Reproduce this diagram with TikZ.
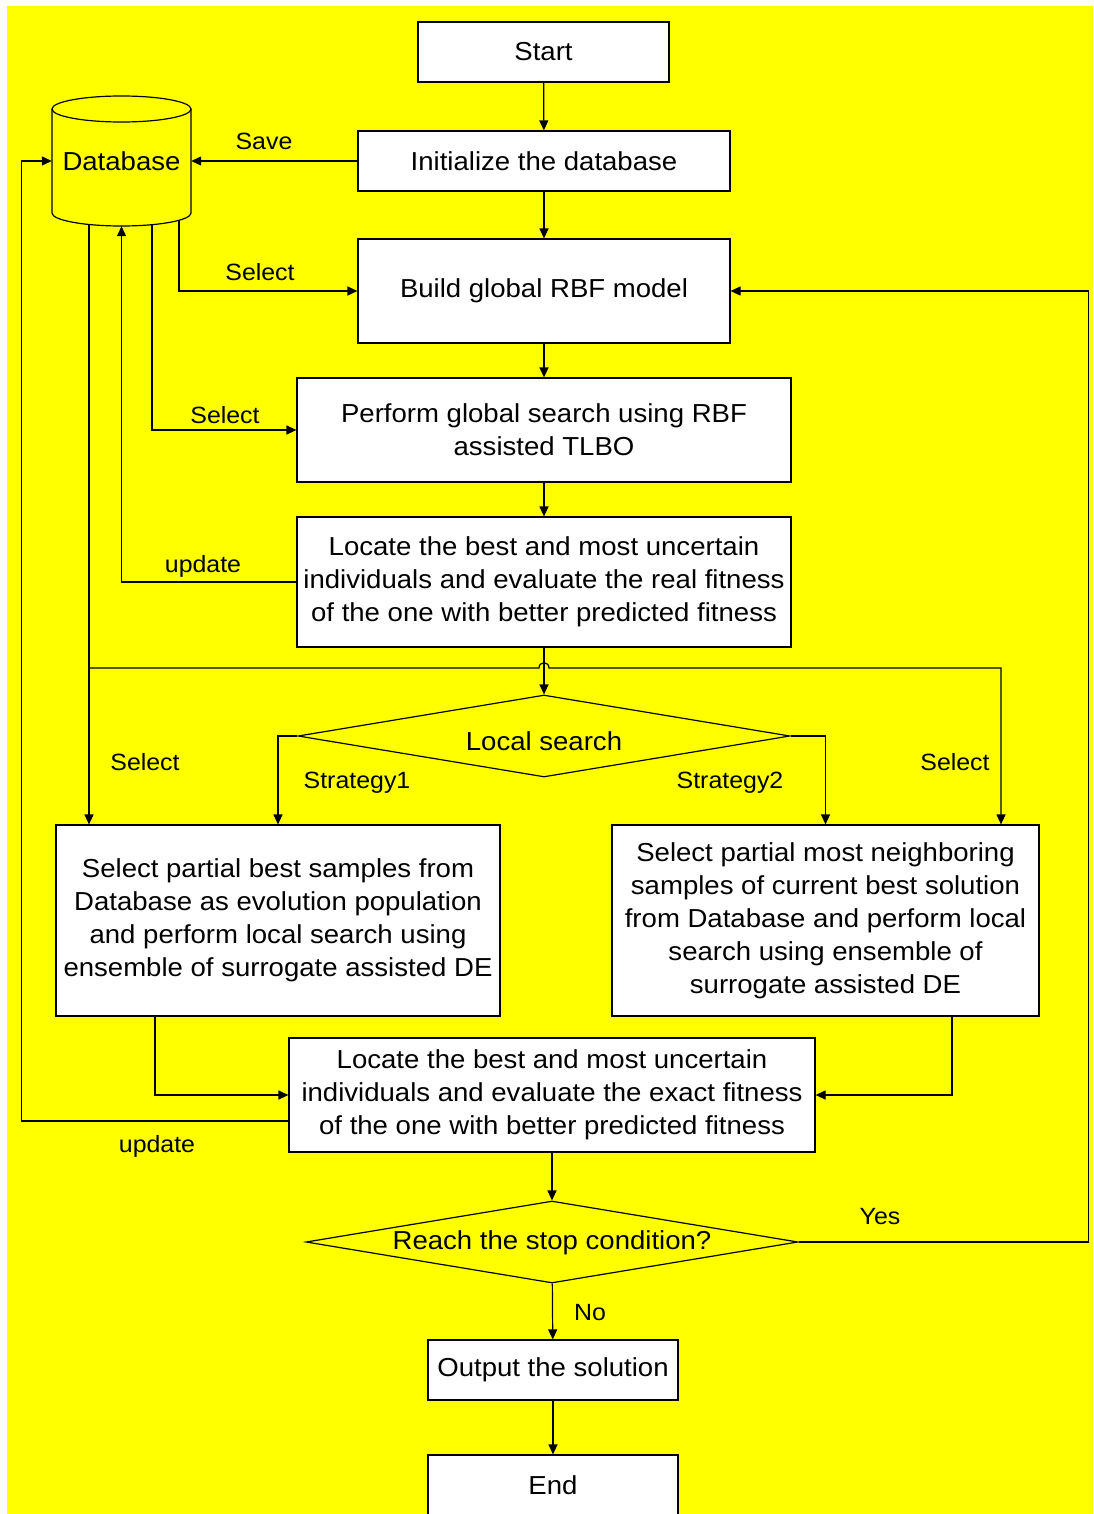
\documentclass[tikz,border=0pt]{standalone}
\usepackage{fontspec}
\setmainfont[FakeStretch=1.06]{Liberation Sans}
\usetikzlibrary{arrows.meta,shapes.geometric}
\definecolor{bgyellow}{RGB}{255,255,0}
\begin{document}
\begin{tikzpicture}[x=1pt,y=-1pt,
  every node/.style={font=\fontsize{26}{33}\selectfont, inner sep=0pt},
  box/.style={draw, fill=white, line width=1.2pt, align=center},
  dia/.style={draw, diamond, fill=bgyellow, line width=1.2pt},
  conn/.style={line width=1.2pt, -{Triangle[length=10pt,width=9pt]}},
  plain/.style={line width=1.2pt},
  lbl/.style={font=\fontsize{23.5}{28}\selectfont}
]
\useasboundingbox (0,0) rectangle (1094,1514);
\fill[bgyellow] (7,6) rectangle (1093,1514);

% nodes
\node[box, minimum width=251, minimum height=60] (start) at (543.5,52) {Start};
\node[box, minimum width=372, minimum height=60] (init) at (544,161) {Initialize the database};
\node[box, minimum width=372, minimum height=104] (build) at (544,291) {Build global RBF model};
\node[box, minimum width=494, minimum height=104] (perf) at (544,430) {Perform global search using RBF\\assisted TLBO};
\node[box, minimum width=494, minimum height=130] (loc1) at (544,582) {Locate the best and most uncertain\\individuals and evaluate the real fitness\\of the one with better predicted fitness};
\node[dia, minimum width=492, minimum height=82] (ls) at (544,736) {};
\node (lstext) at (544,741) {Local search};
\node[box, minimum width=444, minimum height=191] (s1) at (278,920.5) {Select partial best samples from\\Database as evolution population\\and perform local search using\\ensemble of surrogate assisted DE};
\node[box, minimum width=427, minimum height=191] (s2) at (825.5,920.5) {Select partial most neighboring\\samples of current best solution\\from Database and perform local\\search using ensemble of\\surrogate assisted DE};
\node[box, minimum width=526, minimum height=114] (loc2) at (552,1095) {Locate the best and most uncertain\\individuals and evaluate the exact fitness\\of the one with better predicted fitness};
\node[dia, minimum width=492, minimum height=82] (stop) at (552,1242) {};
\node (stoptext) at (552,1243) {Reach the stop condition?};
\node[box, minimum width=250, minimum height=60] (out) at (553,1370) {Output the solution};
\node[box, minimum width=250, minimum height=60] (end) at (553,1485) {End};

% database cylinder
\node[minimum width=139, minimum height=130] (db) at (121.5,161) {Database};
\draw[plain] (52,109) -- (52,213) arc[start angle=180,end angle=360,x radius=69.5pt,y radius=13pt] -- (191,109);
\draw[plain] (121.5,109) ellipse [x radius=69.5pt, y radius=13pt];
\coordinate (dbA) at (89,224.5);
\coordinate (dbC) at (152,224.7);
\coordinate (dbD) at (179,220.3);
\coordinate (brL) at (89,668);
\coordinate (brR) at (1001,668);

% connectors
\draw[conn] (start) -- (init);
\draw[conn] (init.west) -- (db.east);
\draw[conn] (init) -- (build);
\draw[conn] (dbD) |- (build.west);
\draw[conn] (build) -- (perf);
\draw[conn] (dbC) |- (perf.west);
\draw[conn] (perf) -- (loc1);
\draw[conn] (loc1.west) -| (db.south);
\draw[conn] (loc1) -- (ls);
\draw[conn] (dbA) -- (dbA |- s1.north);
\draw[conn] (brL) -- (539,668) .. controls (539,661) and (549,661) .. (549,668) -- (brR) -- (brR |- s2.north);
\draw[conn] (ls.west) -| (s1.north);
\draw[conn] (ls.east) -| (s2.north);
\draw[conn] ([xshift=-123pt]s1.south) |- (loc2.west);
\draw[conn] ([xshift=126.5pt]s2.south) |- (loc2.east);
\draw[conn] ([yshift=-26pt]loc2.west) -- ++(-267,0) |- (db.west);
\draw[conn] (loc2) -- (stop);
\draw[conn] (stop.east) -- ++(290,0) |- (build.east);
\draw[conn] (stop) -- (out);
\draw[conn] (out) -- (end);

% labels
\node[lbl] at (264,141) {Save};
\node[lbl] at (260,272) {Select};
\node[lbl] at (225,415) {Select};
\node[lbl] at (203,566) {update};
\node[lbl] at (145,762) {Select};
\node[lbl] at (357,783) {Strategy1};
\node[lbl] at (730,783) {Strategy2};
\node[lbl] at (955,762) {Select};
\node[lbl] at (157,1146) {update};
\node[lbl] at (880,1217) {Yes};
\node[lbl] at (590,1313) {No};
\end{tikzpicture}
\end{document}
